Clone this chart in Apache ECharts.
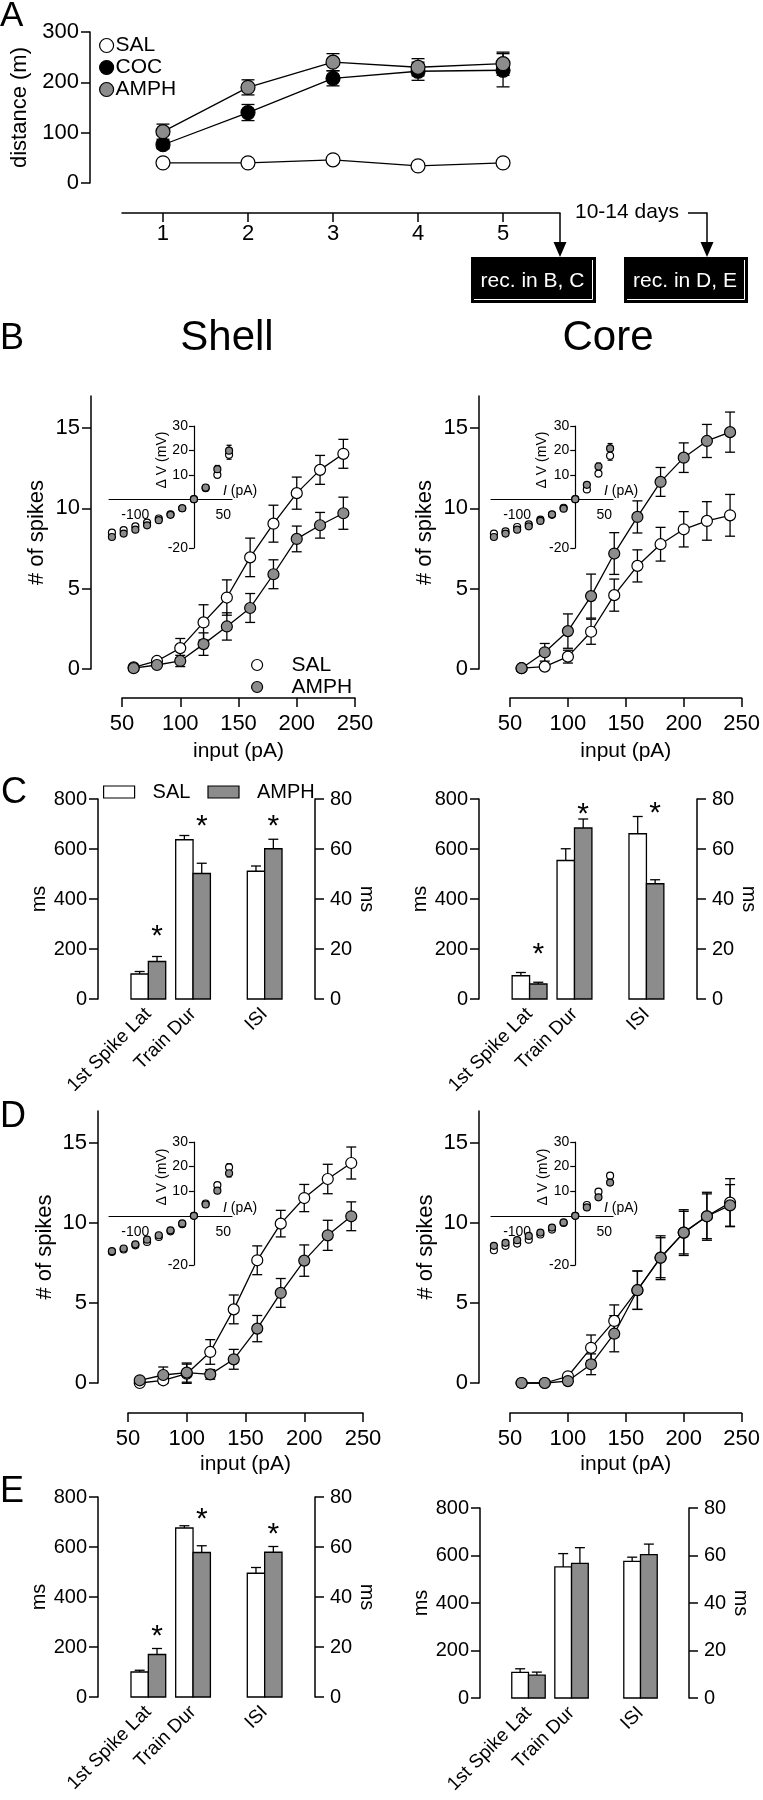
<!DOCTYPE html>
<html><head><meta charset="utf-8">
<script src="https://cdn.jsdelivr.net/npm/echarts@6/dist/echarts.min.js"></script>
<style>html,body{margin:0;padding:0;background:#fff}#c{width:763px;height:1800px}</style>
</head><body><div id="c"></div><script>
const FONT = '"Liberation Sans", Arial, Helvetica, sans-serif';
const GRAY = '#8c8c8c';
const INK = '#000';

// ---------------- DATA ----------------
// Panel A: distance travelled (m) on each sensitization day
const days = [1, 2, 3, 4, 5];
const aSAL = [40, 40, 46, 34, 40];
const aSALErr = [4, 4, 4, 4, 4];
const aCOC = [76, 140, 208, 222, 224];
const aCOCErr = [8, 16, 15, 18, 33];
const aAMPH = [102, 190, 240, 230, 237];
const aAMPHErr = [15, 15, 17, 17, 23];

// Current steps (pA) for spike counts
const inputPA = [60, 80, 100, 120, 140, 160, 180, 200, 220, 240];
const spikeTicks = [0, 5, 10, 15];

// Panel B (rec. in B, C) - # of spikes
const bShellSAL = [0.1, 0.5, 1.3, 2.9, 4.45, 6.95, 9.05, 10.95, 12.4, 13.4];
const bShellSALErr = [0, 0.2, 0.6, 1.1, 1.1, 1.2, 1.15, 1.0, 0.9, 0.9];
const bShellAMPH = [0.05, 0.25, 0.5, 1.55, 2.65, 3.8, 5.9, 8.1, 8.95, 9.7];
const bShellAMPHErr = [0, 0.1, 0.35, 0.7, 0.85, 0.9, 0.9, 0.8, 0.8, 1.0];
const bCoreSAL = [0.05, 0.15, 0.77, 2.32, 4.6, 6.42, 7.77, 8.7, 9.22, 9.57];
const bCoreSALErr = [0, 0.1, 0.4, 0.78, 1.0, 1.0, 1.05, 1.1, 1.2, 1.3];
const bCoreAMPH = [0.05, 1.04, 2.36, 4.54, 7.19, 9.47, 11.65, 13.16, 14.2, 14.75];
const bCoreAMPHErr = [0, 0.55, 1.07, 1.37, 1.3, 1.0, 0.9, 0.92, 1.03, 1.25];

// Panel D (rec. in D, E) - # of spikes
const dShellSAL = [0, 0.17, 0.58, 1.94, 4.6, 7.67, 9.96, 11.56, 12.75, 13.75];
const dShellSALErr = [0.1, 0.2, 0.6, 0.77, 0.9, 0.9, 0.83, 0.85, 0.92, 1.0];
const dShellAMPH = [0.17, 0.5, 0.65, 0.54, 1.48, 3.4, 5.63, 7.65, 9.23, 10.42];
const dShellAMPHErr = [0.1, 0.5, 0.6, 0.3, 0.62, 0.82, 0.9, 0.98, 0.94, 0.9];
const dCoreSAL = [0, 0, 0.42, 2.2, 3.88, 5.8, 7.83, 9.4, 10.42, 11.27];
const dCoreSALErr = [0, 0, 0.1, 0.8, 1.0, 1.2, 1.25, 1.33, 1.4, 1.5];
const dCoreAMPH = [0, 0, 0.12, 1.17, 3.08, 5.8, 7.83, 9.4, 10.42, 11.1];
const dCoreAMPHErr = [0, 0, 0.1, 0.65, 1.13, 1.2, 1.37, 1.43, 1.5, 1.3];

// Insets: I-V relation (I pA, dV mV)
const ivI = [-140, -120, -100, -80, -60, -40, -20, 0, 20, 40, 60];
const ivXLabels = [-100, 50];
const ivYTicks = [-20, 10, 20, 30];
const bShellIvSAL = [-13.7, -12.7, -11.1, -9.6, -7.9, -6.2, -3.7, 0, 4.5, 10, 18.2];
const bShellIvSALErr = [0, 0, 0, 0, 0, 0, 0, 0, 0.6, 1.2, 1.8];
const bShellIvAMPH = [-15.5, -14.1, -12.5, -10.7, -8.6, -6.4, -3.7, 0, 4.8, 12.3, 19.9];
const bShellIvAMPHErr = [0, 0, 0, 0, 0, 0, 0, 0, 0.6, 1.5, 2.2];
const bCoreIvSAL = [-14.1, -13.2, -11.4, -10.3, -8.4, -6.4, -3.5, 0, 4, 10.5, 17.8];
const bCoreIvSALErr = [0, 0, 0, 0, 0, 0, 0, 0, 0.6, 1.2, 1.8];
const bCoreIvAMPH = [-15.5, -14.1, -12.5, -11.1, -8.9, -6.2, -3.9, 0, 5.9, 13.4, 20.8];
const bCoreIvAMPHErr = [0, 0, 0, 0, 0, 0, 0, 0, 0.6, 1.4, 2.0];
const dShellIvSAL = [-14.7, -13.7, -12.0, -10.6, -8.6, -6.3, -3.4, 0, 5.0, 12.5, 19.7];
const dShellIvSALErr = [0, 0, 0, 0, 0, 0, 0, 0, 0.5, 1.0, 1.5];
const dShellIvAMPH = [-14.4, -13.3, -11.6, -9.7, -7.9, -5.9, -3.1, 0, 4.6, 10.2, 17.3];
const dShellIvAMPHErr = [0, 0, 0, 0, 0, 0, 0, 0, 0.5, 1.0, 1.5];
const dCoreIvSAL = [-14.0, -12.2, -11.3, -9.7, -7.6, -5.6, -2.9, 0, 4.4, 9.8, 16.3];
const dCoreIvSALErr = [0, 0, 0, 0, 0, 0, 0, 0, 0.5, 1.0, 1.0];
const dCoreIvAMPH = [-12.2, -11.0, -9.9, -8.2, -6.8, -4.8, -2.7, 0, 3.4, 7.5, 13.5];
const dCoreIvAMPHErr = [0, 0, 0, 0, 0, 0, 0, 0, 0.5, 1.0, 1.0];

// Bar panels C and E: [1st Spike Lat (ms, left axis), Train Dur (ms, left axis), ISI (ms, right axis)]
const barCats = ['1st Spike Lat', 'Train Dur', 'ISI'];
const cShellSAL = [100, 637, 51.1];
const cShellSALErr = [10, 17, 2.1];
const cShellAMPH = [150, 502, 60.1];
const cShellAMPHErr = [20, 41, 3.8];
const cShellStar = [276, 716, 71.6];
const cCoreSAL = [93, 554, 66.1];
const cCoreSALErr = [13, 47, 6.9];
const cCoreAMPH = [60, 684, 46.1];
const cCoreAMPHErr = [7, 36, 1.6];
const cCoreStar = [204, 764, 76.8];
const eShellSAL = [100, 676, 49.5];
const eShellSALErr = [7, 9, 2.3];
const eShellAMPH = [170, 578, 57.9];
const eShellAMPHErr = [24, 27, 2.3];
const eShellStar = [268, 736, 67.6];
const eCoreSAL = [108, 552, 57.5];
const eCoreSALErr = [15, 56, 1.8];
const eCoreAMPH = [96, 567, 60.4];
const eCoreAMPHErr = [13, 66, 4.4];
const eCoreStar = [null, null, null];

// --------------- LAYOUT / STYLE ---------------
const groupPos = [0.232, 0.438, 0.768];   // group centres along the bar-panel x axis (fraction)
const barW = 0.08;                         // bar width (fraction of panel width)
const IV_X = [-145, 65], IV_Y = [-20, 30]; // inset axis ranges

const grids = [], xAxes = [], yAxes = [], series = [], legends = [], graphics = [];
const T = s => ({ color: INK, fontFamily: FONT, fontSize: s });
const AX = { color: INK, width: 1.5 };

function errRender(cap) {
  return function (params, api) {
    const x = api.value(0), y = api.value(1), e = api.value(2);
    if (!(e > 0)) return null;
    const t = api.coord([x, y + e]), b = api.coord([x, y - e]);
    const st = { stroke: INK, lineWidth: 1.3, fill: null };
    const h = cap / 2;
    return { type: 'group', children: [
      { type: 'line', shape: { x1: t[0], y1: t[1], x2: b[0], y2: b[1] }, style: st },
      { type: 'line', shape: { x1: t[0] - h, y1: t[1], x2: t[0] + h, y2: t[1] }, style: st },
      { type: 'line', shape: { x1: b[0] - h, y1: b[1], x2: b[0] + h, y2: b[1] }, style: st }
    ]};
  };
}
function errSeries(xi, yi, xs, ys, es, cap) {
  return { type: 'custom', xAxisIndex: xi, yAxisIndex: yi, silent: true, z: 2,
    encode: { x: 0, y: 1 }, renderItem: errRender(cap),
    data: xs.map((x, i) => [x, ys[i], es[i]]) };
}
function pointSeries(type, name, xi, yi, xs, ys, fill, size) {
  const s = { type, name, xAxisIndex: xi, yAxisIndex: yi, silent: true, z: 3,
    data: xs.map((x, i) => [x, ys[i]]), symbol: 'circle', symbolSize: size,
    itemStyle: { color: fill, borderColor: INK, borderWidth: 1.2, opacity: 1 } };
  if (type === 'line') { s.lineStyle = { color: INK, width: 1.3 }; s.showAllSymbol = true; s.clip = false; }
  return s;
}
const icon = (name, shape, fill) => ({ name, icon: shape, itemStyle: { color: fill, borderColor: INK, borderWidth: 1.2 } });

// ---------- Panel A ----------
(function () {
  const g = grids.push({ left: 122, top: 32, width: 438, height: 151 }) - 1;
  const xi = xAxes.push({ gridIndex: g, type: 'value', min: 0.518, max: 5.67, offset: 30,
    axisLine: { show: true, onZero: false, lineStyle: AX },
    axisTick: { show: true, length: 9, lineStyle: AX, customValues: days },
    axisLabel: { margin: 10, ...T(22), customValues: days },
    splitLine: { show: false } }) - 1;
  const yi = yAxes.push({ gridIndex: g, type: 'value', min: 0, max: 300, interval: 100, offset: 32,
    axisLine: { show: true, onZero: false, lineStyle: AX },
    axisTick: { show: true, length: 9, lineStyle: AX },
    axisLabel: { margin: 11, ...T(22) }, splitLine: { show: false },
    name: 'distance (m)', nameLocation: 'middle', nameGap: 57, nameTextStyle: T(22) }) - 1;
  [['SAL', aSAL, aSALErr, '#fff'], ['COC', aCOC, aCOCErr, INK], ['AMPH', aAMPH, aAMPHErr, GRAY]].forEach(([n, ys, es, f]) => {
    series.push(errSeries(xi, yi, days, ys, es, 13));
    series.push(pointSeries('line', n, xi, yi, days, ys, f, 14));
  });
  legends.push({ orient: 'vertical', left: 99, top: 35, padding: 0, itemWidth: 14, itemHeight: 14, itemGap: 1,
    selectedMode: false, textStyle: { ...T(21), lineHeight: 21, padding: [0, 0, 0, -3] },
    data: [icon('SAL', 'circle', '#fff'), icon('COC', 'circle', INK), icon('AMPH', 'circle', GRAY)] });
})();

// ---------- spike-count panels ----------
function spikesPanel(p) {
  const g = grids.push(p.rect) - 1;
  const xi = xAxes.push({ gridIndex: g, type: 'value', min: 50, max: 250, interval: 50, offset: p.xOff,
    axisLine: { show: true, onZero: false, lineStyle: AX }, axisTick: { show: true, length: 9, lineStyle: AX },
    axisLabel: { margin: 15, ...T(22) }, splitLine: { show: false },
    name: 'input (pA)', nameLocation: 'middle', nameGap: p.xNameGap, nameTextStyle: T(21) }) - 1;
  const yi = yAxes.push({ gridIndex: g, type: 'value', min: 0, max: 17, offset: p.yOff,
    axisLine: { show: true, onZero: false, lineStyle: AX },
    axisTick: { show: true, length: 9, lineStyle: AX, customValues: spikeTicks },
    axisLabel: { margin: 11, ...T(22), customValues: spikeTicks }, splitLine: { show: false },
    name: '# of spikes', nameLocation: 'middle', nameGap: p.yNameGap, nameTextStyle: T(22) }) - 1;
  p.groups.forEach(([n, ys, es, f]) => {
    series.push(errSeries(xi, yi, inputPA, ys, es, 10));
    series.push(pointSeries('line', n, xi, yi, inputPA, ys, f, 11));
  });
}
function insetPanel(p) {
  const g = grids.push(p.rect) - 1;
  const IAX = { color: INK, width: 1.2 };
  // axes cross at the origin: shift each axis from the grid edge to the other axis' zero
  const xShift = -p.rect.height * (0 - IV_Y[0]) / (IV_Y[1] - IV_Y[0]);
  const yShift = -p.rect.width * (0 - IV_X[0]) / (IV_X[1] - IV_X[0]);
  const xi = xAxes.push({ gridIndex: g, type: 'value', min: IV_X[0], max: IV_X[1], offset: xShift,
    axisLine: { show: true, onZero: false, lineStyle: IAX }, axisTick: { show: false },
    axisLabel: { margin: 9, ...T(14), customValues: ivXLabels }, splitLine: { show: false },
    name: '{i|I} (pA)', nameLocation: 'end', nameGap: -9,
    nameTextStyle: { ...T(14), align: 'left', verticalAlign: 'bottom', padding: [0, 0, 1, 0],
      rich: { i: { ...T(14), fontStyle: 'italic' } } } }) - 1;
  const yi = yAxes.push({ gridIndex: g, type: 'value', min: IV_Y[0], max: IV_Y[1], interval: 10, offset: yShift,
    axisLine: { show: true, onZero: false, lineStyle: IAX },
    axisTick: { show: true, length: 5, lineStyle: IAX, customValues: ivYTicks },
    axisLabel: { margin: 6, ...T(14), customValues: ivYTicks }, splitLine: { show: false } }) - 1;
  p.groups.forEach(([n, ys, es, f]) => {
    series.push(errSeries(xi, yi, ivI, ys, es, 5));
    series.push(pointSeries('scatter', n, xi, yi, ivI, ys, f, 7));
  });
  graphics.push({ type: 'text', x: p.dvX, y: p.dvY, rotation: Math.PI / 2, silent: true,
    style: { text: '\u0394 V (mV)', fill: INK, fontFamily: FONT, fontSize: 14,
      align: 'center', verticalAlign: 'middle', textAlign: 'center', textVerticalAlign: 'middle' } });
}

spikesPanel({ rect: { left: 122, top: 396, width: 233, height: 273 }, xOff: 29, yOff: 31, xNameGap: 43, yNameGap: 43,
  groups: [['SAL', bShellSAL, bShellSALErr, '#fff'], ['AMPH', bShellAMPH, bShellAMPHErr, GRAY]] });
spikesPanel({ rect: { left: 510, top: 396, width: 235, height: 273 }, xOff: 29, yOff: 31, xNameGap: 43, yNameGap: 43,
  groups: [['SAL', bCoreSAL, bCoreSALErr, '#fff'], ['AMPH', bCoreAMPH, bCoreAMPHErr, GRAY]] });
spikesPanel({ rect: { left: 128, top: 1111, width: 235, height: 272 }, xOff: 30, yOff: 30, xNameGap: 41, yNameGap: 42,
  groups: [['SAL', dShellSAL, dShellSALErr, '#fff'], ['AMPH', dShellAMPH, dShellAMPHErr, GRAY]] });
spikesPanel({ rect: { left: 510, top: 1111, width: 234, height: 272 }, xOff: 30, yOff: 31, xNameGap: 41, yNameGap: 42,
  groups: [['SAL', dCoreSAL, dCoreSALErr, '#fff'], ['AMPH', dCoreAMPH, dCoreAMPHErr, GRAY]] });

insetPanel({ rect: { left: 109, top: 426, width: 123, height: 122 }, dvX: 162, dvY: 460,
  groups: [['SAL', bShellIvSAL, bShellIvSALErr, '#fff'], ['AMPH', bShellIvAMPH, bShellIvAMPHErr, GRAY]] });
insetPanel({ rect: { left: 491, top: 426, width: 122, height: 122 }, dvX: 542, dvY: 460,
  groups: [['SAL', bCoreIvSAL, bCoreIvSALErr, '#fff'], ['AMPH', bCoreIvAMPH, bCoreIvAMPHErr, GRAY]] });
insetPanel({ rect: { left: 109, top: 1142, width: 123, height: 123 }, dvX: 162, dvY: 1177,
  groups: [['SAL', dShellIvSAL, dShellIvSALErr, '#fff'], ['AMPH', dShellIvAMPH, dShellIvAMPHErr, GRAY]] });
insetPanel({ rect: { left: 491, top: 1142, width: 122, height: 123 }, dvX: 543, dvY: 1177,
  groups: [['SAL', dCoreIvSAL, dCoreIvSALErr, '#fff'], ['AMPH', dCoreIvAMPH, dCoreIvAMPHErr, GRAY]] });

legends.push({ orient: 'vertical', left: 251, top: 654, padding: 0, itemWidth: 11, itemHeight: 11, itemGap: 0,
  selectedMode: false, textStyle: { ...T(21), lineHeight: 22, padding: [0, 0, 0, 24] },
  data: [icon('SAL', 'circle', '#fff'), icon('AMPH', 'circle', GRAY)] });

// ---------- bar panels ----------
function barRender(fill, side, starList) {
  return function (params, api) {
    const gx = api.value(0), v = api.value(1), e = api.value(2);
    const base = api.coord([gx, 0]);
    const top = api.coord([gx, v]);
    const w = api.size([barW, 0])[0];
    const x0 = side < 0 ? base[0] - w : base[0];
    const cx = x0 + w / 2;
    const et = api.coord([gx, v + e]);
    const st = { stroke: INK, lineWidth: 1.3, fill: null };
    const ch = [
      { type: 'line', shape: { x1: cx, y1: top[1], x2: cx, y2: et[1] }, style: st },
      { type: 'line', shape: { x1: cx - 5, y1: et[1], x2: cx + 5, y2: et[1] }, style: st },
      { type: 'rect', shape: { x: x0, y: top[1], width: w, height: base[1] - top[1] },
        style: { fill: fill, stroke: INK, lineWidth: 1.3 } }
    ];
    const s = starList[params.dataIndex];
    if (s != null) {
      const sp = api.coord([gx, s]);
      ch.push({ type: 'text', x: cx, y: sp[1] + 7,
        style: { text: '*', fill: INK, fontFamily: FONT, fontSize: 30,
          align: 'center', verticalAlign: 'middle', textAlign: 'center', textVerticalAlign: 'middle' } });
    }
    return { type: 'group', children: ch };
  };
}
function barSeries(name, xi, yi, fill, side, idxs, vals, errs, stars) {
  return { type: 'custom', name, xAxisIndex: xi, yAxisIndex: yi, silent: true, z: 2,
    itemStyle: { color: fill, borderColor: INK, borderWidth: 1.2 }, encode: { x: 0, y: 1 },
    renderItem: barRender(fill, side, idxs.map(i => stars ? stars[i] : null)),
    data: idxs.map(i => [groupPos[i], vals[i], errs[i]]) };
}
function barPanel(p) {
  const g = grids.push(p.rect) - 1;
  const xi = xAxes.push({ gridIndex: g, type: 'value', min: 0, max: 1,
    axisLine: { show: false }, axisTick: { show: false }, splitLine: { show: false },
    axisLabel: { customValues: groupPos, rotate: 45, margin: 12, ...T(19),
      formatter: v => { let k = 0; groupPos.forEach((q, i) => { if (Math.abs(q - v) < 1e-6) k = i; }); return barCats[k]; } } }) - 1;
  const yl = yAxes.push({ gridIndex: g, type: 'value', position: 'left', min: 0, max: 800, interval: 200,
    axisLine: { show: true, onZero: false, lineStyle: AX }, axisTick: { show: true, length: 9, lineStyle: AX },
    axisLabel: { margin: 11, ...T(20) }, splitLine: { show: false },
    name: 'ms', nameLocation: 'middle', nameGap: p.lGap, nameRotate: 90, nameTextStyle: T(20) }) - 1;
  const yr = yAxes.push({ gridIndex: g, type: 'value', position: 'right', min: 0, max: 80, interval: 20,
    axisLine: { show: true, onZero: false, lineStyle: AX }, axisTick: { show: true, length: 9, lineStyle: AX },
    axisLabel: { margin: 15, ...T(20) }, splitLine: { show: false },
    name: 'ms', nameLocation: 'middle', nameGap: p.rGap, nameRotate: -90, nameTextStyle: T(20) }) - 1;
  [['SAL', '#fff', -1, p.sal, p.salErr, null], ['AMPH', GRAY, 1, p.amph, p.amphErr, p.stars]].forEach(([n, f, side, vals, errs, stars]) => {
    series.push(barSeries(n, xi, yl, f, side, [0, 1], vals, errs, stars));
    series.push(barSeries(n, xi, yr, f, side, [2], vals, errs, stars));
  });
}
barPanel({ rect: { left: 98, top: 799, width: 217, height: 200 }, lGap: 45, rGap: 39,
  sal: cShellSAL, salErr: cShellSALErr, amph: cShellAMPH, amphErr: cShellAMPHErr, stars: cShellStar });
barPanel({ rect: { left: 479, top: 799, width: 218, height: 200 }, lGap: 45, rGap: 39,
  sal: cCoreSAL, salErr: cCoreSALErr, amph: cCoreAMPH, amphErr: cCoreAMPHErr, stars: cCoreStar });
barPanel({ rect: { left: 98, top: 1497, width: 217, height: 200 }, lGap: 45, rGap: 39,
  sal: eShellSAL, salErr: eShellSALErr, amph: eShellAMPH, amphErr: eShellAMPHErr, stars: eShellStar });
barPanel({ rect: { left: 480, top: 1508, width: 209, height: 190 }, lGap: 46, rGap: 36,
  sal: eCoreSAL, salErr: eCoreSALErr, amph: eCoreAMPH, amphErr: eCoreAMPHErr, stars: eCoreStar });

legends.push({ orient: 'horizontal', left: 103, top: 781, padding: 0, itemWidth: 31, itemHeight: 12, itemGap: 17,
  selectedMode: false, textStyle: { ...T(20), lineHeight: 22, padding: [0, 0, 0, 13] },
  data: [icon('SAL', 'rect', '#fff'), icon('AMPH', 'rect', GRAY)] });

// ---------- annotations ----------
function txt(text, x, y, size, align, color) {
  graphics.push({ type: 'text', x, y, silent: true,
    style: { text, fill: color || INK, fontFamily: FONT, fontSize: size,
      align: align || 'left', verticalAlign: 'middle', textAlign: align || 'left', textVerticalAlign: 'middle' } });
}
txt('A', 0, 16, 35); txt('B', 0, 339, 36); txt('C', 1, 793, 36); txt('D', 0, 1117, 36); txt('E', 0, 1492, 36);
txt('Shell', 227, 338, 42, 'center'); txt('Core', 608, 338, 42, 'center');
txt('10-14 days', 575, 212, 21);
// arrows
graphics.push({ type: 'polyline', silent: true, shape: { points: [[560, 213], [560, 244]] }, style: { stroke: INK, lineWidth: 1.5, fill: null } });
graphics.push({ type: 'polygon', silent: true, shape: { points: [[553.5, 242], [566.5, 242], [560, 257]] }, style: { fill: INK } });
graphics.push({ type: 'polyline', silent: true, shape: { points: [[688, 213], [707, 213], [707, 244]] }, style: { stroke: INK, lineWidth: 1.5, fill: null } });
graphics.push({ type: 'polygon', silent: true, shape: { points: [[700.5, 242], [713.5, 242], [707, 257]] }, style: { fill: INK } });
// boxes
function box(x, w, text) {
  graphics.push({ type: 'rect', silent: true, shape: { x, y: 257, width: w, height: 46 }, style: { fill: INK } });
  graphics.push({ type: 'polyline', silent: true, shape: { points: [[x + 3, 299.5], [x + w - 3.5, 299.5], [x + w - 3.5, 260]] },
    style: { stroke: '#fff', lineWidth: 1, fill: null } });
  txt(text, x + w / 2 - 1, 281, 21, 'center', '#fff');
}
box(471, 125, 'rec. in B, C');
box(624, 124, 'rec. in D, E');

const chart = echarts.init(document.getElementById('c'), null, { renderer: 'canvas' });
chart.setOption({
  animation: false,
  backgroundColor: '#fff',
  textStyle: { fontFamily: FONT },
  grid: grids, xAxis: xAxes, yAxis: yAxes, legend: legends, series: series,
  graphic: { elements: graphics }
});
</script></body></html>
